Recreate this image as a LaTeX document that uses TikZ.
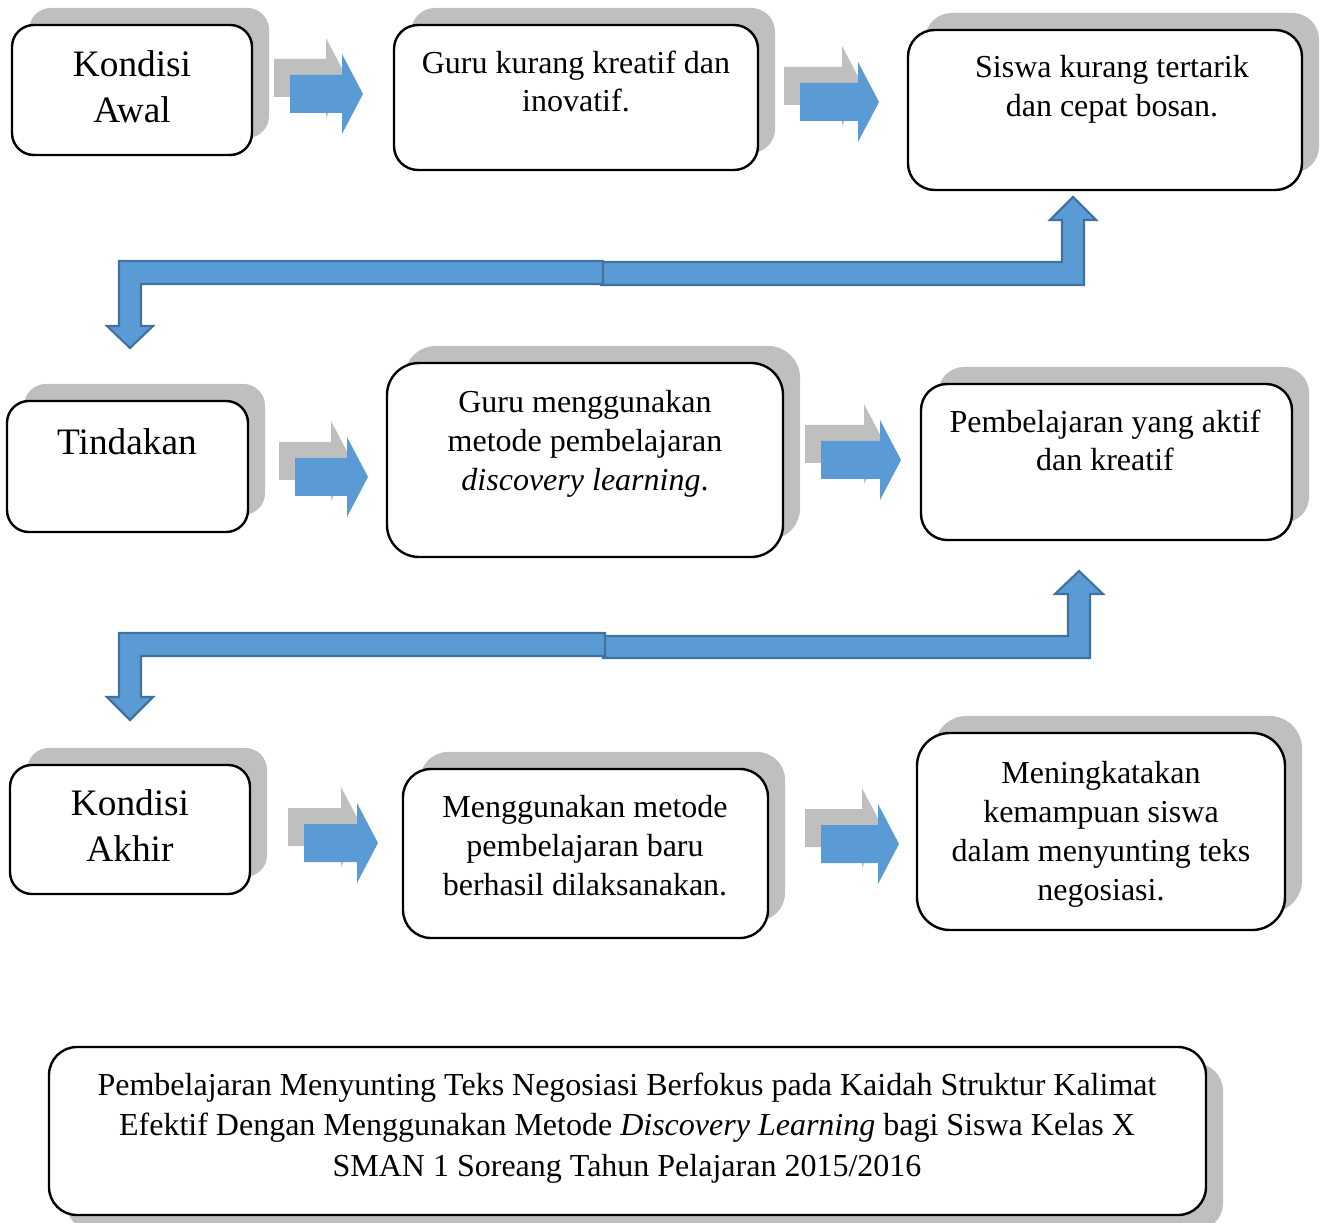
\documentclass[tikz,border=0pt]{standalone}
\usepackage{fontspec}
\setmainfont{Liberation Serif}
\usetikzlibrary{fit,shadows}

\definecolor{arrowblue}{HTML}{5B9BD5}
\definecolor{edgeblue}{HTML}{41719C}
\definecolor{shadegray}{HTML}{BFBFBF}

% small block arrow with its grey copy behind: left x, centre y, body length
\newcommand{\blockarrow}[3]{%
  \begin{scope}[shift={(#1,#2)}]
    \fill[shadegray] (-16,-35) -- ++(#3,0) -- ++(0,-21) -- ++(21,40) -- ++(-21,40) -- ++(0,-21) -- ++(-#3,0) -- cycle;
    \fill[arrowblue] (0,-19) -- ++(#3,0) -- ++(0,-21) -- ++(21,40) -- ++(-21,40) -- ++(0,-21) -- ++(-#3,0) -- cycle;
  \end{scope}}

\begin{document}
\begin{tikzpicture}[x=0.375pt, y=-0.375pt,
    plainbox/.style={draw, line width=0.9pt, fill=white, inner sep=0pt},
    box/.style={plainbox,
      drop shadow={shadow xshift=6.4pt, shadow yshift=6.4pt, opacity=1, fill=shadegray}},
    txt/.style={align=center, anchor=north, inner sep=0pt, font=\fontsize{12}{14.6}\selectfont},
    bigtxt/.style={txt, font=\fontsize{14}{17.25}\selectfont},
    bent/.style={fill=arrowblue, draw=edgeblue, line width=0.8pt}]
    \useasboundingbox (0,0) rectangle (1325,1223);
    \clip (0,0) rectangle (1325,1223);

    % row 1
    \node[box, rounded corners=8.2pt, fit={(12,25) (252,155)}] (awal) {};
    \node[box, rounded corners=9pt, fit={(394,25) (758,170)}] (guru) {};
    \node[box, rounded corners=10pt, fit={(908,30) (1302,190)}] (siswa) {};
    \node[bigtxt] (awaltxt) at (132,50) {Kondisi\\Awal};
    \node[txt] (gurutxt) at (576,50) {Guru kurang kreatif dan\\inovatif.};
    \node[txt] (siswatxt) at (1112,55) {Siswa kurang tertarik\\dan cepat bosan.};
    \blockarrow{290}{94}{52}
    \blockarrow{800}{102}{58}

    % first bent arrow
    \draw[bent] (601,262) -- (1062,262) -- (1062,220) -- (1050,220) -- (1073,197) -- (1096,220) -- (1084,220) -- (1084,285) -- (601,285) -- cycle;
    \draw[bent] (603,261) -- (119,261) -- (119,326) -- (107,326) -- (130,348) -- (153,326) -- (141,326) -- (141,284) -- (603,284) -- cycle;

    % row 2
    \node[box, rounded corners=8.2pt, fit={(7,401) (248,532)}] (tindakan) {};
    \node[box, rounded corners=12pt, fit={(387,363) (783,557)}] (metode) {};
    \node[box, rounded corners=9.8pt, fit={(921,384) (1292,540)}] (aktif) {};
    \node[bigtxt] (tindakantxt) at (127,428) {Tindakan};
    \node[txt] (metodetxt) at (585,390) {Guru menggunakan\\metode pembelajaran\\\textit{discovery learning}.};
    \node[txt] (aktiftxt) at (1105,409) {Pembelajaran yang aktif\\dan kreatif};
    \blockarrow{295}{477}{52}
    \blockarrow{821}{460}{59}

    % second bent arrow
    \draw[bent] (603,636) -- (1068,636) -- (1068,594) -- (1055,594) -- (1079,571) -- (1103,594) -- (1090,594) -- (1090,658) -- (603,658) -- cycle;
    \draw[bent] (605,633) -- (119,633) -- (119,697) -- (107,697) -- (130,720) -- (153,697) -- (141,697) -- (141,656) -- (605,656) -- cycle;

    % row 3
    \node[box, rounded corners=8.2pt, fit={(10,765) (250,894)}] (akhir) {};
    \node[box, rounded corners=10.5pt, fit={(403,769) (768,938)}] (berhasil) {};
    \node[box, rounded corners=12.3pt, fit={(917,733) (1285,930)}] (mampu) {};
    \node[bigtxt] (akhirtxt) at (130,789) {Kondisi\\Akhir};
    \node[txt] (berhasiltxt) at (585,795) {Menggunakan metode\\pembelajaran baru\\berhasil dilaksanakan.};
    \node[txt] (mamputxt) at (1101,761) {Meningkatakan\\kemampuan siswa\\dalam menyunting teks\\negosiasi.};
    \blockarrow{304}{843}{53}
    \blockarrow{821}{844}{57}

    % title box
    \node[plainbox, rounded corners=10.5pt, fit={(49,1047) (1206,1215)},
      drop shadow={shadow xshift=6.4pt, shadow yshift=-6pt, opacity=1, fill=shadegray}] (judul) {};
    \node[txt, font=\fontsize{12}{15.2}\selectfont] (judultxt) at (627,1072) {Pembelajaran Menyunting Teks Negosiasi Berfokus pada Kaidah Struktur Kalimat\\Efektif Dengan Menggunakan Metode \textit{Discovery Learning} bagi Siswa Kelas X\\SMAN 1 Soreang Tahun Pelajaran 2015/2016};
\end{tikzpicture}
\end{document}
